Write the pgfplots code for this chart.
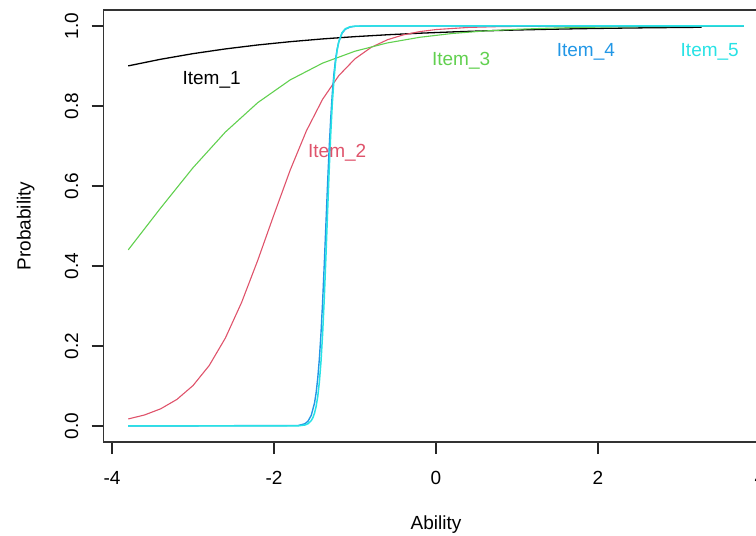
\documentclass[border=0pt]{standalone}
\usepackage{fontspec}
\setmainfont{Liberation Sans}
\usepackage{pgfplots}
\pgfplotsset{compat=1.18}
\definecolor{rblack}{HTML}{000000}
\definecolor{rred}{HTML}{DF536B}
\definecolor{rgreen}{HTML}{61D04F}
\definecolor{rblue}{HTML}{2297E6}
\definecolor{rcyan}{HTML}{28E2E5}

\begin{document}
\begin{tikzpicture}[x=1pt,y=1pt]
  \fontsize{19}{22}\selectfont
  \begin{axis}[
    at={(103.6pt,94pt)}, anchor=south west,
    scale only axis, width=664.8pt, height=432pt,
    xmin=-4.104, xmax=4.104, ymin=-0.04, ymax=1.04,
    xtick={-4,-2,0,2,4},
    ytick={0,0.2,0.4,0.6,0.8,1},
    yticklabels={0.0,0.2,0.4,0.6,0.8,1.0},
    /pgf/number format/assume math mode=true,
    tick pos=left, tick align=outside,
    major tick length=12pt,
    every tick/.style={black!85, line width=1.2pt},
    axis line style={line width=1.2pt, black!80},
    tick label style={font=\fontsize{19}{22}\selectfont},
    xticklabel style={anchor=center, yshift=-24pt},
    yticklabel style={rotate=90, anchor=center, yshift=20pt},
    xlabel={Ability}, ylabel={Probability},
    label style={font=\fontsize{19}{22}\selectfont},
    xlabel style={at={(axis description cs:0.5,0)}, anchor=center, yshift=-83pt},
    ylabel style={at={(axis description cs:0,0.5)}, anchor=center, yshift=78pt},
  ]
    % Item_1
    \addplot[rblack, line width=1.3pt] coordinates {
      (-3.8,0.9003) (-3.4,0.9168) (-3.0,0.9309) (-2.6,0.9427) (-2.2,0.9526)
      (-1.8,0.9608) (-1.4,0.9677) (-1.0,0.9734) (-0.6,0.9781) (-0.2,0.9820)
      (0.2,0.9852) (0.6,0.9879) (1.0,0.9900) (1.4,0.9918) (1.8,0.9933)
      (2.2,0.9945) (2.6,0.9955) (3.0,0.9963) (3.28,0.9968)
    };
    % Item_2
    \addplot[rred, line width=1.1pt] coordinates {
      (-3.8,0.0176) (-3.6,0.0275) (-3.4,0.0429) (-3.2,0.0663) (-3.0,0.1011)
      (-2.8,0.1512) (-2.6,0.2201) (-2.4,0.3090) (-2.2,0.4146) (-2.0,0.5287)
      (-1.8,0.6399) (-1.6,0.7379) (-1.4,0.8168) (-1.2,0.8760) (-1.0,0.9180)
      (-0.8,0.9466) (-0.6,0.9656) (-0.4,0.9780) (-0.2,0.9860) (0.0,0.9911)
      (0.4,0.9964) (0.8,0.9986) (1.2,0.9994) (1.6,0.9998) (2.0,0.9999)
      (3.8,1.0)
    };
    % Item_3
    \addplot[rgreen, line width=1.1pt] coordinates {
      (-3.8,0.4403) (-3.4,0.5449) (-3.0,0.6457) (-2.6,0.7350) (-2.2,0.8085)
      (-1.8,0.8653) (-1.4,0.9072) (-1.0,0.9370) (-0.6,0.9577) (-0.2,0.9718)
      (0.2,0.9813) (0.6,0.9876) (1.0,0.9918) (1.4,0.9946) (1.8,0.9965)
      (2.2,0.9977) (2.6,0.9985) (3.0,0.9990) (3.4,0.9993) (3.8,0.9996)
    };
    % Item_4
    \addplot[rblue, line width=1.4pt] coordinates {
      (-3.8,0.0) (-1.7,0.0012) (-1.62,0.0055) (-1.58,0.0121) (-1.54,0.0266)
      (-1.50,0.0573) (-1.48,0.0832) (-1.46,0.1192) (-1.44,0.1680) (-1.42,0.2315)
      (-1.40,0.3100) (-1.38,0.4013) (-1.36,0.5) (-1.34,0.5987) (-1.32,0.6900)
      (-1.30,0.7685) (-1.28,0.8320) (-1.26,0.8808) (-1.24,0.9168) (-1.22,0.9427)
      (-1.20,0.9608) (-1.16,0.9820) (-1.12,0.9918) (-1.06,0.9975) (-1.0,0.9993)
      (-0.8,1.0) (3.8,1.0)
    };
    % Item_5
    \addplot[rcyan, line width=1.5pt] coordinates {
      (-3.8,0.0) (-1.7,0.0004) (-1.62,0.0024) (-1.58,0.0057) (-1.54,0.0135)
      (-1.52,0.0208) (-1.50,0.0320) (-1.48,0.0488) (-1.46,0.0738) (-1.44,0.1101)
      (-1.42,0.1611) (-1.40,0.2297) (-1.38,0.3165) (-1.36,0.4182) (-1.34,0.5275)
      (-1.32,0.6341) (-1.30,0.7291) (-1.28,0.8069) (-1.26,0.8665) (-1.24,0.9097)
      (-1.22,0.9399) (-1.20,0.9604) (-1.16,0.9832) (-1.12,0.9930) (-1.06,0.9981)
      (-1.0,0.9995) (-0.8,1.0) (3.8,1.0)
    };
    \node[text=rblack] at (axis cs:-2.77,0.865) {Item\_1};
    \node[text=rred] at (axis cs:-1.22,0.683) {Item\_2};
    \node[text=rgreen] at (axis cs:0.31,0.913) {Item\_3};
    \node[text=rblue] at (axis cs:1.85,0.935) {Item\_4};
    \node[text=rcyan] at (axis cs:3.38,0.935) {Item\_5};
  \end{axis}
  \pgfresetboundingbox
  \useasboundingbox (0,0) rectangle (756,536);
\end{tikzpicture}
\end{document}
